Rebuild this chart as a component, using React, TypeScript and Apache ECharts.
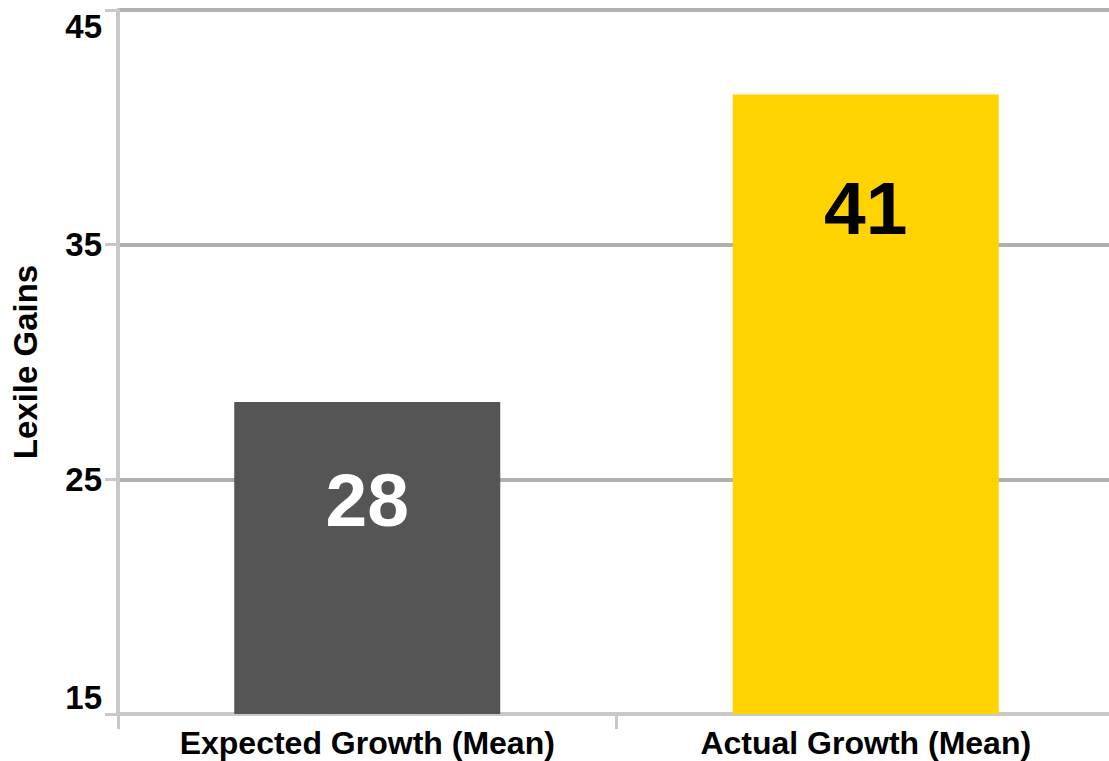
import React, { useEffect, useRef } from "react";
import * as echarts from "echarts";

const categories = ["Expected Growth (Mean)", "Actual Growth (Mean)"];
const values = [28.3, 41.4];
const barColors = ["#555555", "#FFD300"];
const labelColors = ["#ffffff", "#000000"];
const labelOffsets = [98, 114];
const yTicks = { min: 15, max: 45, interval: 10 };
const yName = "Lexile Gains";

const FONT = "'Liberation Sans', Arial, sans-serif";

export default function App() {
  const ref = useRef<HTMLDivElement>(null);
  useEffect(() => {
    if (!ref.current) return;
    const chart = echarts.init(ref.current, null, { renderer: "svg" });
    chart.setOption({
      animation: false,
      backgroundColor: "#ffffff",
      grid: {
        left: 118,
        right: -6,
        top: 10,
        bottom: 47,
        containLabel: false,
        outerBoundsMode: "none",
      },
      xAxis: {
        type: "category",
        data: categories,
        axisLine: { show: true, lineStyle: { color: "#c8c8c8", width: 4 } },
        axisTick: { show: true, length: 15, lineStyle: { color: "#c8c8c8", width: 3 } },
        axisLabel: {
          margin: 13,
          fontSize: 32,
          fontWeight: "bold",
          color: "#000000",
          fontFamily: FONT,
        },
        splitLine: { show: false },
      },
      yAxis: {
        type: "value",
        min: yTicks.min,
        max: yTicks.max,
        interval: yTicks.interval,
        name: yName,
        nameLocation: "middle",
        nameRotate: 90,
        nameGap: 76,
        nameTextStyle: { fontSize: 33, fontWeight: "bold", color: "#000000", fontFamily: FONT },
        axisLine: { show: true, lineStyle: { color: "#c8c8c8", width: 4 } },
        axisTick: { show: true, length: 13, lineStyle: { color: "#c8c8c8", width: 3 } },
        axisLabel: {
          margin: 16,
          fontSize: 33,
          fontWeight: "bold",
          color: "#000000",
          fontFamily: FONT,
          verticalAlignMinLabel: "bottom",
          verticalAlignMaxLabel: "top",
        },
        splitLine: { show: true, lineStyle: { color: "#b0b0b0", width: 4 } },
      },
      series: [
        {
          type: "bar",
          barWidth: 266,
          data: values.map((v, i) => ({
            value: v,
            itemStyle: { color: barColors[i] },
            label: {
              show: true,
              position: ["50%", labelOffsets[i]],
              align: "center",
              verticalAlign: "middle",
              formatter: () => String(Math.round(v)),
              fontSize: 75,
              fontWeight: "bold",
              color: labelColors[i],
              fontFamily: FONT,
            },
          })),
        },
      ],
    });
    return () => chart.dispose();
  }, []);
  return (
    <div
      ref={ref}
      style={{ position: "fixed", left: 0, top: 0, width: 1109, height: 761, background: "#fff" }}
    />
  );
}
